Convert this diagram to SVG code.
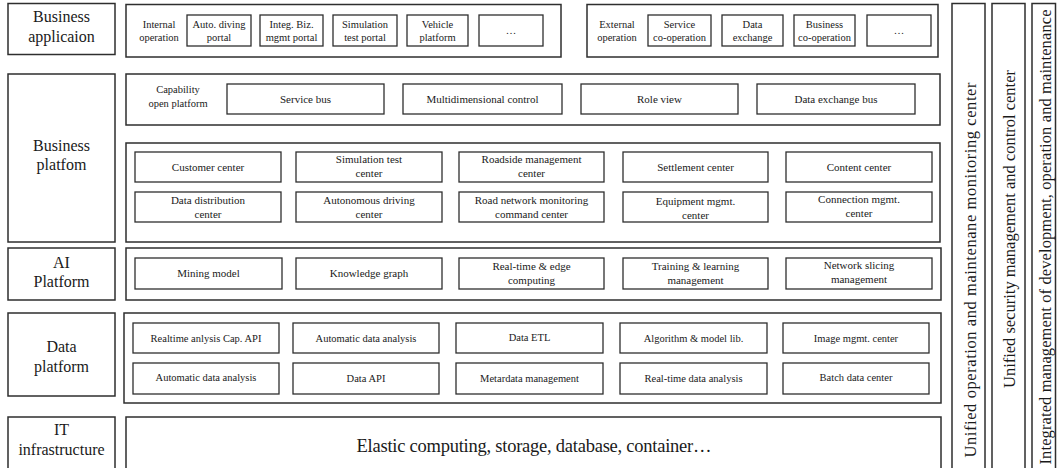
<svg xmlns="http://www.w3.org/2000/svg" width="1057" height="468" viewBox="0 0 1057 468">
  <style>
    .box { fill: #ffffff; stroke: #2e2e2e; stroke-width: 1.3; }
    .frame { fill: #ffffff; stroke: #2e2e2e; stroke-width: 1.5; }
    text { font-family: "Liberation Serif", "Times New Roman", serif; fill: #1a1a1a; text-anchor: middle; }
    .layer { font-size: 16px; }
    .top { font-size: 10.5px; }
    .itm { font-size: 11px; }
    .dat { font-size: 10.5px; }
    .big { font-size: 18.5px; }
    .side { font-size: 16.5px; }
  </style>
  <rect width="1057" height="468" fill="#ffffff"/>

  <!-- Layer labels (left column) -->
  <g id="label-business-application">
    <rect class="frame" x="8" y="3.5" width="107" height="51"/>
    <text class="layer" x="61.5" y="22">Business</text>
    <text class="layer" x="61.5" y="42">applicaion</text>
  </g>
  <g id="label-business-platform">
    <rect class="frame" x="8" y="74" width="107" height="168"/>
    <text class="layer" x="61.5" y="151">Business</text>
    <text class="layer" x="61.5" y="170">platfom</text>
  </g>
  <g id="label-ai-platform">
    <rect class="frame" x="8" y="248" width="107" height="52"/>
    <text class="layer" x="61.5" y="268">AI</text>
    <text class="layer" x="61.5" y="287">Platform</text>
  </g>
  <g id="label-data-platform">
    <rect class="frame" x="8" y="313" width="107" height="83"/>
    <text class="layer" x="61.5" y="352">Data</text>
    <text class="layer" x="61.5" y="372">platform</text>
  </g>
  <g id="label-it-infrastructure">
    <rect class="frame" x="8" y="417" width="107" height="60"/>
    <text class="layer" x="61.5" y="435">IT</text>
    <text class="layer" x="61.5" y="455">infrastructure</text>
  </g>

  <!-- Business application: internal operation -->
  <g id="internal-operation">
    <rect class="frame" x="126" y="4.5" width="435" height="52.5"/>
    <text class="top" x="159" y="27.5">Internal</text>
    <text class="top" x="159" y="40.5">operation</text>
  </g>
  <g id="auto-driving-portal">
    <rect class="box" x="187" y="15" width="64" height="31"/>
    <text class="top" x="219" y="27.5">Auto. diving</text>
    <text class="top" x="219" y="40.5">portal</text>
  </g>
  <g id="integ-biz-portal">
    <rect class="box" x="260" y="15" width="63" height="31"/>
    <text class="top" x="291.5" y="27.5">Integ. Biz.</text>
    <text class="top" x="291.5" y="40.5">mgmt portal</text>
  </g>
  <g id="simulation-test-portal">
    <rect class="box" x="333" y="15" width="64" height="31"/>
    <text class="top" x="365" y="27.5">Simulation</text>
    <text class="top" x="365" y="40.5">test portal</text>
  </g>
  <g id="vehicle-platform">
    <rect class="box" x="407" y="15" width="61" height="31"/>
    <text class="top" x="437.5" y="27.5">Vehicle</text>
    <text class="top" x="437.5" y="40.5">platform</text>
  </g>
  <g id="internal-more">
    <rect class="box" x="479" y="15" width="64" height="31"/>
    <text class="top" x="511" y="34">…</text>
  </g>

  <!-- Business application: external operation -->
  <g id="external-operation">
    <rect class="frame" x="587" y="4.5" width="351" height="52.5"/>
    <text class="top" x="617" y="27.5">External</text>
    <text class="top" x="617" y="40.5">operation</text>
  </g>
  <g id="service-cooperation">
    <rect class="box" x="648" y="15" width="63" height="31"/>
    <text class="top" x="679.5" y="27.5">Service</text>
    <text class="top" x="679.5" y="40.5">co-operation</text>
  </g>
  <g id="data-exchange">
    <rect class="box" x="722" y="15" width="61" height="31"/>
    <text class="top" x="752.5" y="27.5">Data</text>
    <text class="top" x="752.5" y="40.5">exchange</text>
  </g>
  <g id="business-cooperation">
    <rect class="box" x="794" y="15" width="61" height="31"/>
    <text class="top" x="824.5" y="27.5">Business</text>
    <text class="top" x="824.5" y="40.5">co-operation</text>
  </g>
  <g id="external-more">
    <rect class="box" x="867" y="15" width="64" height="31"/>
    <text class="top" x="899" y="34">…</text>
  </g>

  <!-- Business platform: capability open platform -->
  <g id="capability-open-platform">
    <rect class="frame" x="126" y="74" width="814" height="51"/>
    <text class="top" x="178" y="93">Capability</text>
    <text class="top" x="178" y="107">open platform</text>
  </g>
  <g id="service-bus">
    <rect class="box" x="227" y="84" width="157" height="30"/>
    <text class="itm" x="305.5" y="103">Service bus</text>
  </g>
  <g id="multidimensional-control">
    <rect class="box" x="403" y="84" width="159" height="30"/>
    <text class="itm" x="482.5" y="103">Multidimensional control</text>
  </g>
  <g id="role-view">
    <rect class="box" x="581" y="84" width="157" height="30"/>
    <text class="itm" x="659.5" y="103">Role view</text>
  </g>
  <g id="data-exchange-bus">
    <rect class="box" x="757" y="84" width="158" height="30"/>
    <text class="itm" x="836" y="103">Data exchange bus</text>
  </g>

  <!-- Business platform: centers -->
  <g id="business-centers">
    <rect class="frame" x="126" y="143" width="814" height="99"/>
  </g>
  <g id="customer-center">
    <rect class="box" x="135" y="152" width="146" height="30"/>
    <text class="itm" x="208" y="170.5">Customer center</text>
  </g>
  <g id="simulation-test-center">
    <rect class="box" x="296" y="152" width="146" height="30"/>
    <text class="itm" x="369" y="163">Simulation test</text>
    <text class="itm" x="369" y="177">center</text>
  </g>
  <g id="roadside-management-center">
    <rect class="box" x="459" y="152" width="145" height="30"/>
    <text class="itm" x="531.5" y="163">Roadside management</text>
    <text class="itm" x="531.5" y="177">center</text>
  </g>
  <g id="settlement-center">
    <rect class="box" x="623" y="152" width="145" height="30"/>
    <text class="itm" x="695.5" y="170.5">Settlement center</text>
  </g>
  <g id="content-center">
    <rect class="box" x="786" y="152" width="146" height="30"/>
    <text class="itm" x="859" y="170.5">Content center</text>
  </g>
  <g id="data-distribution-center">
    <rect class="box" x="135" y="192" width="146" height="30"/>
    <text class="itm" x="208" y="203.5">Data distribution</text>
    <text class="itm" x="208" y="217.5">center</text>
  </g>
  <g id="autonomous-driving-center">
    <rect class="box" x="296" y="192" width="146" height="30"/>
    <text class="itm" x="369" y="203.5">Autonomous driving</text>
    <text class="itm" x="369" y="217.5">center</text>
  </g>
  <g id="road-network-command-center">
    <rect class="box" x="459" y="192" width="145" height="30"/>
    <text class="itm" x="531.5" y="203.5">Road network monitoring</text>
    <text class="itm" x="531.5" y="217.5">command center</text>
  </g>
  <g id="equipment-mgmt-center">
    <rect class="box" x="623" y="192" width="145" height="30"/>
    <text class="itm" x="695.5" y="205">Equipment mgmt.</text>
    <text class="itm" x="695.5" y="218.5">center</text>
  </g>
  <g id="connection-mgmt-center">
    <rect class="box" x="786" y="192" width="146" height="30"/>
    <text class="itm" x="859" y="203">Connection mgmt.</text>
    <text class="itm" x="859" y="216.5">center</text>
  </g>

  <!-- AI platform -->
  <g id="ai-platform">
    <rect class="frame" x="126" y="248" width="815" height="52"/>
  </g>
  <g id="mining-model">
    <rect class="box" x="135" y="258" width="147" height="31"/>
    <text class="itm" x="208.5" y="277">Mining model</text>
  </g>
  <g id="knowledge-graph">
    <rect class="box" x="296" y="258" width="146" height="31"/>
    <text class="itm" x="369" y="277">Knowledge graph</text>
  </g>
  <g id="realtime-edge-computing">
    <rect class="box" x="459" y="258" width="145" height="31"/>
    <text class="itm" x="531.5" y="270">Real-time &amp; edge</text>
    <text class="itm" x="531.5" y="284">computing</text>
  </g>
  <g id="training-learning-management">
    <rect class="box" x="623" y="258" width="145" height="31"/>
    <text class="itm" x="695.5" y="270">Training &amp; learning</text>
    <text class="itm" x="695.5" y="284">management</text>
  </g>
  <g id="network-slicing-management">
    <rect class="box" x="786" y="258" width="146" height="31"/>
    <text class="itm" x="859" y="269">Network slicing</text>
    <text class="itm" x="859" y="283">management</text>
  </g>

  <!-- Data platform -->
  <g id="data-platform">
    <rect class="frame" x="124" y="313" width="817" height="90"/>
  </g>
  <g id="realtime-analysis-api">
    <rect class="box" x="133" y="323" width="146" height="30"/>
    <text class="dat" x="206" y="341.5">Realtime anlysis Cap. API</text>
  </g>
  <g id="automatic-data-analysis-1">
    <rect class="box" x="293" y="323" width="146" height="30"/>
    <text class="dat" x="366" y="341.5">Automatic data analysis</text>
  </g>
  <g id="data-etl">
    <rect class="box" x="456" y="323" width="147" height="30"/>
    <text class="dat" x="529.5" y="341">Data ETL</text>
  </g>
  <g id="algorithm-model-lib">
    <rect class="box" x="620" y="323" width="147" height="30"/>
    <text class="dat" x="693.5" y="341.5">Algorithm &amp; model lib.</text>
  </g>
  <g id="image-mgmt-center">
    <rect class="box" x="783" y="323" width="146" height="30"/>
    <text class="dat" x="856" y="341.5">Image mgmt. center</text>
  </g>
  <g id="automatic-data-analysis-2">
    <rect class="box" x="133" y="363" width="146" height="31"/>
    <text class="dat" x="206" y="381">Automatic data analysis</text>
  </g>
  <g id="data-api">
    <rect class="box" x="293" y="363" width="146" height="31"/>
    <text class="dat" x="366" y="382">Data API</text>
  </g>
  <g id="metadata-management">
    <rect class="box" x="456" y="363" width="147" height="31"/>
    <text class="dat" x="529.5" y="382">Metardata management</text>
  </g>
  <g id="realtime-data-analysis">
    <rect class="box" x="620" y="363" width="147" height="31"/>
    <text class="dat" x="693.5" y="382">Real-time data analysis</text>
  </g>
  <g id="batch-data-center">
    <rect class="box" x="783" y="363" width="146" height="31"/>
    <text class="dat" x="856" y="381">Batch data center</text>
  </g>

  <!-- IT infrastructure -->
  <g id="it-infrastructure">
    <rect class="frame" x="126" y="417" width="815" height="60"/>
    <text class="big" x="534" y="452" textLength="355">Elastic computing, storage, database, container…</text>
  </g>

  <!-- Cross-layer management columns -->
  <g id="operation-monitoring-center">
    <rect class="frame" x="952" y="3.5" width="33" height="475"/>
    <text class="side" transform="translate(976 270) rotate(-90)" textLength="375">Unified operation and maintenane monitoring center</text>
  </g>
  <g id="security-control-center">
    <rect class="frame" x="992" y="3.5" width="33" height="475"/>
    <text class="side" transform="translate(1015 229) rotate(-90)" textLength="318">Unified security management and control center</text>
  </g>
  <g id="devops-management">
    <rect class="frame" x="1032" y="3.5" width="23.5" height="475"/>
    <text class="side" transform="translate(1050.5 237) rotate(-90)" textLength="455">Integrated management of development, operation and maintenance</text>
  </g>
</svg>
